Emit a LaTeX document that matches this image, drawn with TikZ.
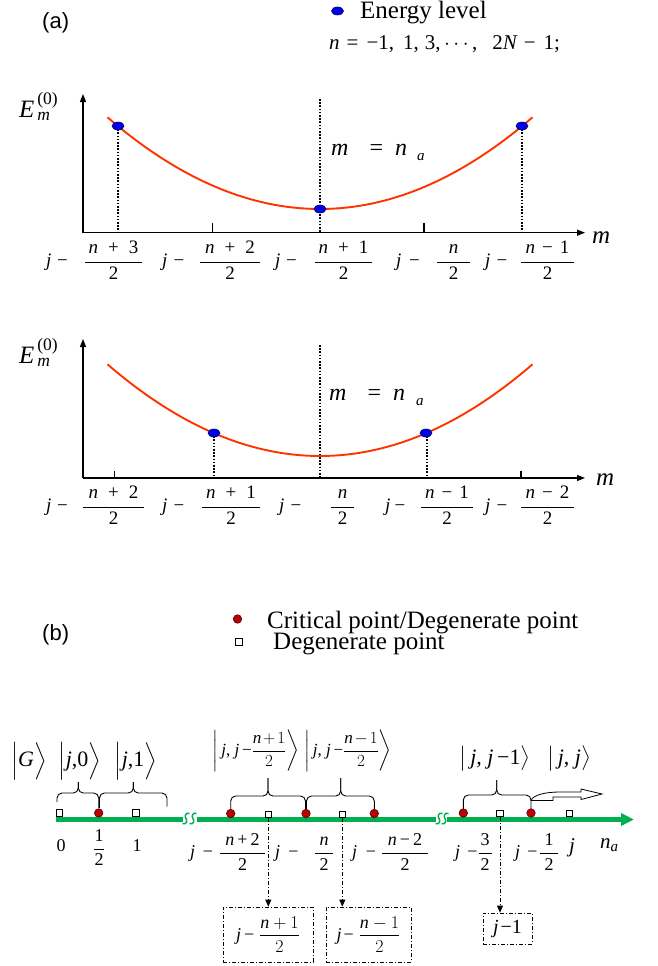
\RequirePackage{fix-cm}
\documentclass[tikz,border=0pt]{standalone}
\usepackage{amsmath}
\usepackage{fontspec}
\setmainfont{Liberation Serif}
\newfontfamily\sansf{Liberation Sans}
\usetikzlibrary{arrows.meta,shapes.geometric}
\definecolor{curvered}{RGB}{255,51,0}
\definecolor{dotblue}{RGB}{0,0,240}
\definecolor{dotnavy}{RGB}{0,0,90}
\definecolor{dotred}{RGB}{192,0,0}
\definecolor{lgreen}{RGB}{0,176,80}
\newcommand{\fs}[1]{\fontsize{#1}{\the\dimexpr#1pt*6/5\relax}\selectfont}
\newcommand{\ii}[1]{\textit{#1}}
\newcommand{\fr}[3]{\genfrac{}{}{0.6pt}{0}{\makebox[#1]{#2}}{\makebox[#1]{#3}}}
\tikzset{
  axis/.style={line width=1.3pt,-{Triangle[length=8pt,width=6pt]}},
  tickln/.style={line width=1.3pt},
  vdotln/.style={line width=1.4pt,dash pattern=on 1.6pt off 1.6pt},
  curveln/.style={line width=1.9pt,draw=curvered},
  edot/.style={ellipse,minimum width=12pt,minimum height=8pt,inner sep=0,fill=dotblue,draw=dotnavy,line width=0.6pt},
  rdot/.style={circle,minimum size=8.5pt,inner sep=0,fill=dotred,draw=black!60!dotred,line width=0.6pt},
  sq/.style={rectangle,minimum size=6.5pt,inner sep=0,fill=white,draw=black,line width=0.7pt},
  gline/.style={line width=4.4pt,draw=lgreen},
  squig/.style={line width=1.5pt,draw=lgreen},
  brc/.style={line width=0.9pt,rounded corners=5pt},
  ddln/.style={line width=0.8pt,dash pattern=on 4pt off 2pt on 1pt off 2pt},
  ddarrow/.style={ddln,-{Triangle[length=7pt,width=6pt]}},
  ddbox/.style={ddln,draw,rectangle,inner sep=0},
  flabs/.style={font=\fs{19},inner sep=0},
  blabs/.style={font=\fs{18},inner sep=0},
  txt/.style={inner sep=0},
}
\newcommand{\flab}[7]{%
  \node[flabs,anchor=base west] (#1j) at (#3,#2) {\ii{j}};
  \node[flabs,anchor=base] (#1m) at (#4,#2) {−};
  \node[flabs,anchor=base] (#1f) at (#5,#2) {$\fr{#6}{#7}{2}$};}
\newcommand{\blab}[7]{%
  \node[blabs,anchor=base west] (#1j) at (#3,#2) {\ii{j}};
  \node[blabs,anchor=base] (#1m) at (#4,#2) {−};
  \node[blabs,anchor=base] (#1f) at (#5,#2) {$\fr{#6}{#7}{2}$};}
\newcommand{\bracepath}[7]{%
  \draw[brc] (#1,#2) -- (#1,#6) -- (#5,#6) -- (#5,#7);
  \draw[brc] (#3,#4) -- (#3,#6) -- (#5,#6) -- (#5,#7);}
\newcommand{\squiggle}[1]{%
  \draw[squig] (#1,823.5) .. controls (#1+4.5,825) and (#1+5,820) .. (#1+3.5,818.5)
    .. controls (#1+2,817) and (#1+2.5,812) .. (#1+7,813.5);}
\begin{document}
\begin{tikzpicture}[x=1pt,y=-1pt]
\useasboundingbox (0,0) rectangle (657,966);
% ---------------- (a) ----------------
\node[txt,font=\sansf\fs{22},anchor=west] (la) at (42,23) {(a)};
\node[edot] (lgd) at (337.5,11) {};
\node[txt,font=\fs{25},anchor=base west] (lgt) at (360,18.5) {Energy level};
\node[txt,font=\fs{21},anchor=base west] (nl) at (329,50)
  {\ii{n}\hspace{7pt}=\hspace{8pt}−1,\hspace{9pt}1,\hspace{6pt}3,$\,\cdots$,\hspace{15pt}2\ii{N}\hspace{6pt}−\hspace{8pt}1;};
% top plot
\coordinate (o1) at (83,232.7);
\draw[axis] (o1) -- (83,94);
\draw[axis] (o1) -- (585,232.7);
\draw[tickln] (212.5,223) -- (212.5,232.7);
\draw[tickln] (424,223) -- (424,232.7);
\coordinate (mt1) at (320,99);
\draw[vdotln] (mt1) -- (320,232.7);
\draw[vdotln] (118,126) -- (118,232.7);
\draw[vdotln] (522,126) -- (522,232.7);
\draw[curveln] plot[domain=107.5:532.5,samples=80] (\x,{209-((\x-320)*0.04506)^2});
\node[edot] (a1) at (118,126) {};
\node[edot] (a2) at (320,209) {};
\node[edot] (a3) at (522,126) {};
\node[txt,font=\fs{25},anchor=base west] (E1) at (19,117) {$\ii{E}_{\,\ii{m}}^{\,\text{(0)}}$};
\node[txt,font=\fs{24},anchor=base west] (mn1) at (331,155) {\ii{m}\hspace{21pt}=\hspace{12pt}\ii{n}\hspace{10pt}\raisebox{-5pt}{\fs{15}\ii{a}}};
\node[txt,font=\fs{25},anchor=base west] (mx1) at (592,243) {\ii{m}};
\flab{ta}{266.75}{46}{62.5}{113.5}{57pt}{\ii{n}\hspace{10pt}+\hspace{10pt}3}
\flab{tb}{266.75}{162}{179}{230}{60pt}{\ii{n}\hspace{10pt}+\hspace{10pt}2}
\flab{tc}{266.75}{275}{291.5}{343.5}{57pt}{\ii{n}\hspace{10pt}+\hspace{10pt}1}
\flab{td}{266.75}{396}{414.5}{453.5}{33pt}{\ii{n}}
\flab{te}{266.75}{485}{502}{547.5}{53pt}{\ii{n}\hspace{7pt}−\hspace{7pt}1}
% bottom plot
\coordinate (o2) at (83,478);
\draw[axis] (o2) -- (83,339);
\draw[axis] (o2) -- (585,478);
\draw[tickln] (114.6,471) -- (114.6,478);
\draw[tickln] (521,471) -- (521,478);
\coordinate (mt2) at (320,345);
\draw[vdotln] (mt2) -- (320,478);
\draw[vdotln] (214,433) -- (214,478);
\draw[vdotln] (427,433) -- (427,478);
\draw[curveln] plot[domain=107.5:532.5,samples=80] (\x,{456-((\x-320)*0.04506)^2});
\node[edot] (b1) at (214,433) {};
\node[edot] (b2) at (426,433) {};
\node[txt,font=\fs{25},anchor=base west] (E2) at (19,363) {$\ii{E}_{\,\ii{m}}^{\,\text{(0)}}$};
\node[txt,font=\fs{24},anchor=base west] (mn2) at (329,400) {\ii{m}\hspace{21pt}=\hspace{12pt}\ii{n}\hspace{11pt}\raisebox{-5pt}{\fs{15}\ii{a}}};
\node[txt,font=\fs{25},anchor=base west] (mx2) at (596,485) {\ii{m}};
\flab{ba}{511.75}{46}{62.5}{113.5}{61pt}{\ii{n}\hspace{10pt}+\hspace{10pt}2}
\flab{bb}{511.75}{162}{179}{231}{58pt}{\ii{n}\hspace{10pt}+\hspace{10pt}1}
\flab{bc}{511.75}{279}{296}{342.5}{23pt}{\ii{n}}
\flab{bd}{511.75}{385}{400}{447}{52pt}{\ii{n}\hspace{7pt}−\hspace{7pt}1}
\flab{be}{511.75}{485}{502}{547.5}{53pt}{\ii{n}\hspace{7pt}−\hspace{7pt}2}
% ---------------- (b) ----------------
\node[txt,font=\sansf\fs{22},anchor=west] (lb) at (42,635) {(b)};
\node[rdot] (lgr) at (237.5,619) {};
\node[txt,font=\fs{25},anchor=base west] (lgrt) at (267,628.3) {Critical point/Degenerate point};
\node[sq] (lgs) at (239,642) {};
\node[txt,font=\fs{25},anchor=base west] (lgst) at (273,649) {Degenerate point};
% green axis
\coordinate (g0) at (56,819.5);
\coordinate (g1) at (183,819.5);
\coordinate (g2) at (197,819.5);
\coordinate (g3) at (436,819.5);
\coordinate (g4) at (447,819.5);
\coordinate (g5) at (634,819.5);
\draw[gline] (g0) -- (g1);
\draw[gline] (g2) -- (g3);
\draw[gline,-{Triangle[length=13pt,width=12pt]}] (g4) -- (g5);
\squiggle{182.5}
\squiggle{189.5}
\squiggle{435.5}
\squiggle{441.5}
% points
\node[sq] (s1) at (59.5,813) {};
\node[rdot] (d1) at (98.7,813) {};
\node[sq] (s2) at (135.7,813) {};
\node[rdot] (d2) at (230.7,813.5) {};
\node[sq] (s3) at (268.3,814.5) {};
\node[rdot] (d3) at (306,813.5) {};
\node[sq] (s4) at (342.3,814.5) {};
\node[rdot] (d4) at (374.3,813.5) {};
\node[rdot] (d5) at (463.3,813) {};
\node[sq] (s5) at (500,813.5) {};
\node[rdot] (d6) at (531,813) {};
\node[sq] (s6) at (569.3,813.5) {};
% braces
\bracepath{57}{802}{98.7}{808}{78.3}{793}{782}
\bracepath{99.5}{808}{167}{806.5}{133.3}{793}{782}
\bracepath{230.7}{809}{305.5}{809}{268}{796}{778}
\bracepath{306.5}{809}{374.3}{809}{340.7}{796}{778}
\bracepath{463.3}{809}{531}{809}{496.7}{795}{780}
% hollow arrow
\draw[line width=0.8pt,fill=white] (531,800.5) -- (553,800.5) -- (553,797) -- (581,797) -- (581,799.5)
  -- (602,794) -- (581,789) -- (581,792) -- (560,792) .. controls (545,792) and (533,795) .. (531,800.5) -- cycle;
% kets
\node[txt,font=\fs{22}] (kG) at (29,761) {$\Bigl|$\ii{G}$\Bigr\rangle$};
\node[txt,font=\fs{22}] (k0) at (80,761) {$\Bigl|$\ii{j},0$\Bigr\rangle$};
\node[txt,font=\fs{22}] (k1) at (136,761) {$\Bigl|$\ii{j},1$\Bigr\rangle$};
\node[txt,font=\fs{17}] (kn1) at (256,751) {$\biggl|$\,\ii{j}, \ii{j}\,−$\dfrac{\ii{n}\mkern2mu{+}\mkern2mu1}{2}\biggr\rangle$};
\node[txt,font=\fs{17}] (kn2) at (348,751) {$\biggl|$\,\ii{j}, \ii{j}\,−$\dfrac{\ii{n}\mkern2mu{-}\mkern2mu1}{2}\biggr\rangle$};
\node[txt,font=\fs{22}] (kr1) at (495,758.5) {$\bigl|$\,\ii{j}, \ii{j}\,−1$\bigr\rangle$};
\node[txt,font=\fs{22}] (kr2) at (569,758.5) {$\bigl|$\,\ii{j}, \ii{j}$\bigr\rangle$};
% labels below the axis
\node[txt,font=\fs{18},anchor=base] (t0) at (61,851.7) {0};
\node[txt,font=\fs{18},anchor=base] (th) at (99,853.5) {$\fr{10pt}{1}{2}$};
\node[txt,font=\fs{18},anchor=base] (t1) at (137,851.7) {1};
\blab{la}{857.8}{190}{208}{242.5}{45pt}{\ii{n}\hspace{3pt}+\hspace{3pt}2}
\blab{lb}{857.8}{275}{293.5}{324}{18pt}{\ii{n}}
\blab{lc}{857.8}{352}{371}{405}{46pt}{\ii{n}\hspace{3pt}−\hspace{3pt}2}
\blab{ld}{857.8}{455}{472.5}{485}{13pt}{3}
\blab{le}{857.8}{515}{532.5}{549}{18pt}{1}
\node[txt,font=\fs{21},anchor=base west] (bigj) at (569,852) {\ii{j}};
\node[txt,font=\fs{21},anchor=base west] (naxis) at (600,848) {\ii{n}\raisebox{-3pt}{\fs{15}\ii{a}}};
% boxes and dash-dot arrows
\node[ddbox,minimum width=90pt,minimum height=55pt,font=\fs{18}] (bx1) at (268,934.5) {\ii{j}\hspace{3pt}−\hspace{5pt}$\dfrac{\ii{n}+1}{2}$};
\node[ddbox,minimum width=85pt,minimum height=55pt,font=\fs{18}] (bx2) at (368.5,934.5) {\ii{j}\hspace{2pt}−\hspace{5pt}$\dfrac{\ii{n}-1}{2}$};
\node[ddbox,minimum width=49pt,minimum height=31pt,font=\fs{20}] (bx3) at (507.5,928.5) {\ii{j}\hspace{2pt}−1};
\draw[ddarrow] (s3.south) -- (s3.south |- bx1.north);
\draw[ddarrow] (s4.south) -- (s4.south |- bx2.north);
\draw[ddarrow] (s5.south) -- (s5.south |- bx3.north);
\end{tikzpicture}
\end{document}
